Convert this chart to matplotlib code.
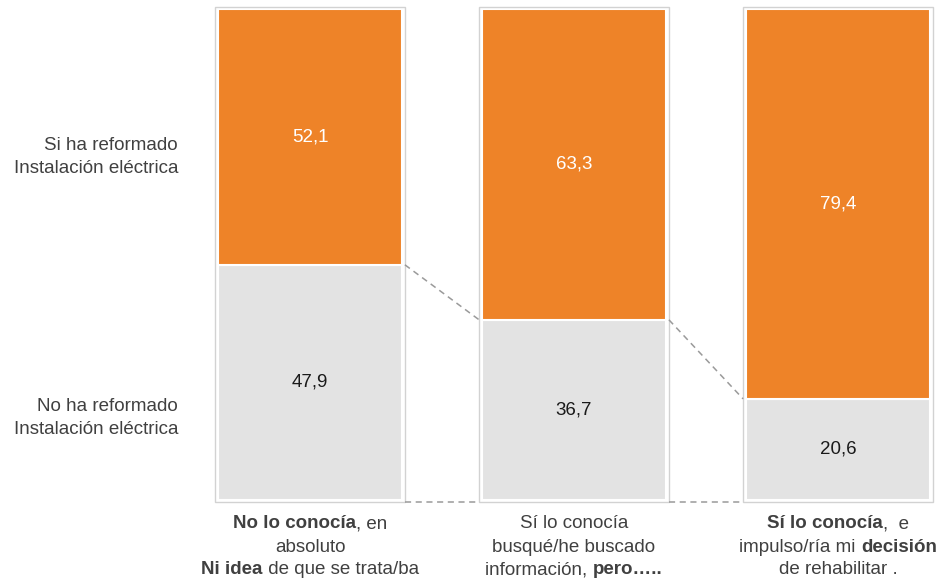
import matplotlib
matplotlib.use("Agg")
import matplotlib.pyplot as plt
from matplotlib.patches import Rectangle

plt.rcParams['font.family'] = ['Liberation Sans', 'DejaVu Sans']

# Data: share (%) of each group that has / has not renovated the electrical installation
si_reformado = [52.1, 63.3, 79.4]
no_reformado = [47.9, 36.7, 20.6]
series_labels = ["Si ha reformado\nInstalación eléctrica",
                 "No ha reformado\nInstalación eléctrica"]
# Category labels: each line is a list of (text, bold) runs
category_lines = [
    [[("No lo conocía", True), (", en", False)],
     [("absoluto", False)],
     [("Ni idea", True), (" de que se trata/ba", False)]],
    [[("Sí lo conocía", False)],
     [("busqué/he buscado", False)],
     [("información, ", False), ("pero…..", True)]],
    [[("Sí lo conocía", True), (",  e", False)],
     [("impulso/ría mi ", False), ("decisión", True)],
     [("de rehabilitar .", False)]],
]

ORANGE = "#EE8328"
GREY = "#E3E3E3"
FRAME = "#D2D2D2"
DASH = "#9A9A9A"
TEXT = "#404040"

W, H = 944, 583
fig = plt.figure(figsize=(W / 100, H / 100), dpi=100)
ax = fig.add_axes([200 / W, (H - 500) / H, (W - 200) / W, 491 / H])
ax.set_xlim((200 - 310) / 264, (W - 310) / 264)
ax.set_ylim(0, 100)
ax.axis("off")

x = list(range(len(si_reformado)))
width = 0.697
ax.bar(x, no_reformado, width=width, color=GREY, edgecolor="white", linewidth=1.5)
ax.bar(x, si_reformado, bottom=no_reformado, width=width, color=ORANGE,
       edgecolor="white", linewidth=1.5)

# light frame around every column
padx, pady = 0.011, 0.45
for xi in x:
    ax.add_patch(Rectangle((xi - width / 2 - padx, -pady), width + 2 * padx, 100 + 2 * pady,
                           fill=False, edgecolor=FRAME, linewidth=1.0, clip_on=False))

# value labels
for xi, lo, hi in zip(x, no_reformado, si_reformado):
    ax.text(xi, lo / 2, f"{lo:.1f}".replace(".", ","), ha="center", va="center",
            fontsize=13.5, color="#1a1a1a")
    ax.text(xi, lo + hi / 2, f"{hi:.1f}".replace(".", ","), ha="center", va="center",
            fontsize=13.5, color="white")

# dashed connectors between the boundaries of consecutive columns
for i in range(len(x) - 1):
    x0 = x[i] + width / 2 + padx
    x1 = x[i + 1] - width / 2 - padx
    ax.plot([x0, x1], [no_reformado[i], no_reformado[i + 1]], ls=(0, (4, 3)),
            color=DASH, lw=1.1, clip_on=False)
    ax.plot([x0, x1], [-pady, -pady], ls=(0, (4, 3)), color=DASH, lw=1.1, clip_on=False)

# series labels on the left
fig.text(178 / W, 1 - 157 / H, series_labels[0], ha="right", va="center",
         fontsize=13.5, color=TEXT, linespacing=1.45, multialignment="right")
fig.text(178 / W, 1 - 418 / H, series_labels[1], ha="right", va="center",
         fontsize=13.5, color=TEXT, linespacing=1.45, multialignment="right")

# category labels with mixed bold runs, centred under each column
renderer = fig.canvas.get_renderer()
line_y = [524, 547, 570]
fs = 13.5
for xi, lines in zip(x, category_lines):
    cx = ax.transData.transform((xi, 0))[0]
    for ly, runs in zip(line_y, lines):
        widths = []
        for txt, bold in runs:
            t = fig.text(0, 0, txt, fontsize=fs, fontweight="bold" if bold else "normal")
            widths.append(t.get_window_extent(renderer).width)
            t.remove()
        start = cx - sum(widths) / 2
        for (txt, bold), w in zip(runs, widths):
            fig.text(start / W, 1 - ly / H, txt, ha="left", va="center", fontsize=fs,
                     fontweight="bold" if bold else "normal", color=TEXT)
            start += w

fig.savefig("out.png", dpi=100)
